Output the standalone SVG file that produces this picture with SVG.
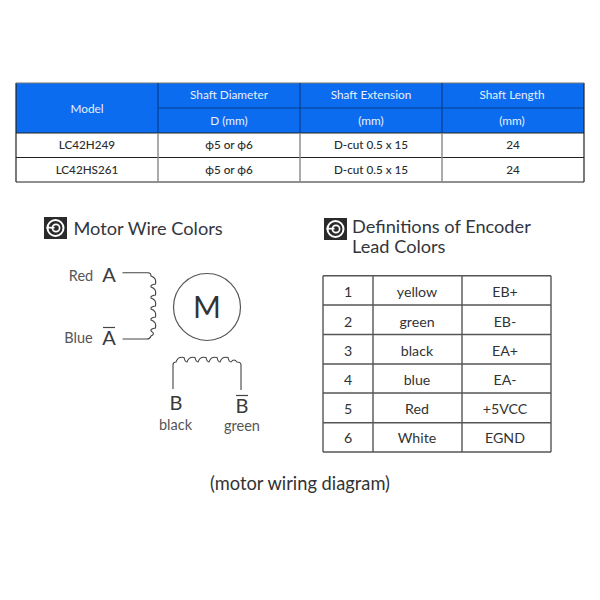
<svg xmlns="http://www.w3.org/2000/svg" width="600" height="600" viewBox="0 0 600 600">
<style>
text{font-family:"Lato","Carlito","Open Sans",sans-serif;text-anchor:middle;fill:#333}
.h{fill:#e8f0fb;font-size:11.8px}
.c{font-size:11.7px;fill:#2b2b2b;font-weight:500}
.t{font-size:14.2px;fill:#333}
.title{font-size:18.2px;text-anchor:start;fill:#33363d}
.lab{font-size:14.5px;fill:#555}
.big{font-size:20px;fill:#3a3a3a}
.g{stroke:#222;stroke-width:1.2;fill:none}
.v{stroke:#888;stroke-width:1.4;fill:none}
.e{stroke:#555;stroke-width:1.4;fill:none}
.w{stroke:#444;stroke-width:1.1;fill:none}
</style>
<defs>
<g id="icon">
<rect width="23" height="22" fill="#2a2a2a"/>
<circle cx="11.5" cy="11" r="8" fill="none" stroke="#fff" stroke-width="2"/>
<circle cx="12" cy="11" r="3.600" fill="none" stroke="#fff" stroke-width="1.700"/>
<rect x="2.500" y="9.800" width="8" height="1.700" fill="#fff"/>
</g>
</defs>
<rect width="600" height="600" fill="#fff"/>
<g id="spec-table">
<rect x="16" y="83" width="568" height="50" fill="#0b6cf0"/>
<rect x="16" y="133" width="568" height="49" fill="#fff"/>
<path d="M158 108H584" stroke="#0a3c8c" stroke-width="1.200"/>
<path class="g" d="M16 133H584M16 157.500H584M16 182H584M16 83V182M584 83V182"/>
<path d="M16 83H584" stroke="#777" stroke-width="1.2"/>
<path d="M158 83V133M300 83V133M442 83V133" stroke="#0a3c8c" stroke-width="1.2"/>
<path class="v" d="M158 133V182M300 133V182M442 133V182"/>
<text class="h" x="87" y="112.500">Model</text>
<text class="h" x="229" y="99">Shaft Diameter</text>
<text class="h" x="371" y="99">Shaft Extension</text>
<text class="h" x="512" y="99">Shaft Length</text>
<text class="h" x="229" y="125">D (mm)</text>
<text class="h" x="371" y="125">(mm)</text>
<text class="h" x="512" y="125">(mm)</text>
<text class="c" x="87" y="149">LC42H249</text>
<text class="c" x="229" y="149">ϕ5 or ϕ6</text>
<text class="c" x="371" y="149">D-cut 0.5 x 15</text>
<text class="c" x="513" y="149">24</text>
<text class="c" x="87" y="174">LC42HS261</text>
<text class="c" x="229" y="174">ϕ5 or ϕ6</text>
<text class="c" x="371" y="174">D-cut 0.5 x 15</text>
<text class="c" x="513" y="174">24</text>
</g>
<g id="motor-title">
<use href="#icon" x="44" y="217"/>
<text class="title" x="73.500" y="235">Motor Wire Colors</text>
</g>
<g id="encoder-title">
<use href="#icon" x="324" y="218"/>
<text class="title"><tspan x="352" y="233">Definitions of Encoder</tspan><tspan x="352" y="253">Lead Colors</tspan></text>
</g>
<g id="motor">
<circle cx="207" cy="307" r="33.500" fill="none" stroke="#555" stroke-width="1.2"/>
<text x="207" y="318" style="font-size:30px;fill:#333">M</text>
</g>
<g id="connectors">
<path class="w" d="M122.500 272.700H148Q151 272.700 151 276Q157 278 155.500 284Q150 285 151 287Q157 289 155.500 295Q150 296 151 298Q157 300 155.500 306Q150 307 151 309Q157 311 155.500 317Q150 318 151 320Q157 322 155.500 328Q150 329 151 331Q156 334 151 336Q150 339 147 339H122.500"/>
<path class="w" d="M173 389V365Q173 362 176 362Q178 356 184 357.500Q185 362 187 362Q189 356 195 357.500Q196 362 198 362Q200 356 206 357.500Q207 362 209 362Q211 356 217 357.500Q218 362 220 362Q222 356 228 357.500Q229 362 231 362Q234 358 237 362Q241 362 241 365V390"/>
</g>
<g id="wire-labels">
<text class="lab" x="81" y="280.500">Red</text>
<text class="big" x="109" y="282">A</text>
<text class="lab" x="78.500" y="342.500">Blue</text>
<text class="big" x="109" y="345">A</text>
<path d="M103 327.500H115" stroke="#444" stroke-width="1.2"/>
<text class="big" x="176" y="410">B</text>
<text class="big" x="242" y="413">B</text>
<path d="M236 395.500H248" stroke="#444" stroke-width="1.2"/>
<text class="lab" x="175.500" y="430">black</text>
<text class="lab" x="242" y="431">green</text>
</g>
<g id="encoder-table">
<path class="e" d="M323 275.700H551M323 305H551M323 334.500H551M323 364H551M323 393H551M323 422.700H551M323 452H551M323 275.700V452M373 275.700V452M462 275.700V452M551 275.700V452"/>
<text class="t" x="348" y="297">1</text><text class="t" x="417" y="297">yellow</text><text class="t" x="505" y="297">EB+</text>
<text class="t" x="348" y="327">2</text><text class="t" x="417" y="327">green</text><text class="t" x="505" y="327">EB-</text>
<text class="t" x="348" y="356">3</text><text class="t" x="417" y="356">black</text><text class="t" x="505" y="356">EA+</text>
<text class="t" x="348" y="385">4</text><text class="t" x="417" y="385">blue</text><text class="t" x="505" y="385">EA-</text>
<text class="t" x="348" y="414">5</text><text class="t" x="417" y="414">Red</text><text class="t" x="505" y="414">+5VCC</text>
<text class="t" x="348" y="443">6</text><text class="t" x="417" y="443">White</text><text class="t" x="505" y="443">EGND</text>
</g>
<text x="300" y="490" style="font-size:18.3px;fill:#333">(motor wiring diagram)</text>
</svg>
